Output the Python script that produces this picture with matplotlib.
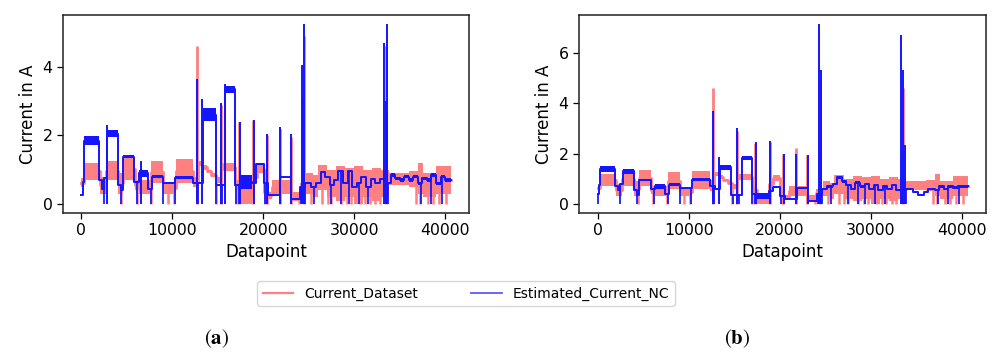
#Grafico de corriente medida vs corriente estimada en dos paneles (a) y (b)

#Librerias
import matplotlib
matplotlib.use('Agg')
import matplotlib.pyplot as plt
import numpy as np

plt.rcParams['font.family'] = 'DejaVu Sans'
plt.rcParams['mathtext.fontset'] = 'stix'

##Datos (valores aproximados)

#Corriente del dataset: inicio de cada tramo, minimo y maximo de la banda
red_x = [0, 300, 2000, 2700, 4000, 4600, 5900, 6300, 7700, 9000, 10400, 12300,
         12800, 13300, 13800, 14300, 14800, 15300, 16900, 17500, 18800, 19300,
         20050, 20500, 21000, 23000, 24000, 24700, 25500, 26000, 27000, 28000,
         29000, 30000, 31000, 32000, 33000, 33800, 36000, 37000, 37600, 39000, 40600]
red_lo = [0.5, 0.7, 0.3, 0.7, 0.3, 0.7, 0.4, 0.3, 0.6, 0.3, 0.6, 0.5,
          1.1, 1.0, 0.9, 0.8, 0.6, 0.95, 0.4, 0.0, 0.7, 0.9,
          0.2, 0.15, 0.3, 0.1, 0.3, 0.3, 0.2, 0.4, 0.2, 0.1,
          0.2, 0.0, 0.2, 0.1, 0.2, 0.55, 0.5, 0.3, 0.2, 0.3]
red_hi = [0.75, 1.2, 0.8, 1.25, 0.9, 1.35, 0.7, 0.7, 1.25, 0.65, 1.3, 0.8,
          1.25, 1.15, 1.0, 0.9, 0.8, 1.2, 0.7, 0.45, 0.9, 1.15,
          0.5, 0.35, 0.7, 0.35, 0.6, 0.9, 0.85, 1.15, 1.0, 1.1,
          1.05, 1.1, 1.0, 1.05, 1.0, 0.9, 0.95, 1.2, 0.9, 1.1]
red_spike_x = [12700, 15300, 17300, 18900, 20400, 21800, 23000, 24450, 33500]
red_spike_y = [4.6, 2.9, 2.4, 2.45, 2.0, 2.2, 1.95, 4.9, 4.6]
red_dip_x = [4400, 6100, 7600, 9500, 10200, 14800, 17000, 20200, 23900, 25300,
             26500, 27100, 27500, 28600, 29200, 29700, 30600, 31200, 31700, 32300,
             32800, 36800, 37200, 38100, 38700, 39300, 40100]

#Corriente estimada (a)
a_x = [0, 150, 300, 1900, 2300, 2500, 2800, 4000, 4300, 4600, 5800, 6300, 7300,
       7800, 9000, 10300, 12300, 12900, 13400, 14800, 15800, 16900, 17500, 18800,
       19200, 20050, 20500, 21850, 23050, 24050, 24600, 25200, 25800, 26300, 26800,
       27300, 27800, 28200, 28800, 29300, 29800, 30300, 30800, 31300, 31800, 32300,
       32800, 33300, 34000, 34500, 35000, 35500, 36000, 36500, 37000, 37500, 38000,
       38500, 39000, 39500, 40000, 40600]
a_lo = [0.25, 0.65, 1.72, 0.7, 0.45, 0.75, 1.95, 0.55, 0.4, 1.35, 0.65, 0.8, 0.45,
        0.75, 0.6, 0.72, 0.6, 0.6, 2.42, 0.55, 3.25, 0.55, 0.45, 0.6,
        1.15, 0.6, 0.25, 0.8, 0.15, 0.5, 0.6, 0.5, 0.6, 0.9, 0.8,
        0.55, 0.7, 0.95, 0.6, 0.95, 0.5, 0.6, 0.75, 0.5, 0.7, 0.6,
        0.7, 0.6, 0.8, 0.7, 0.65, 0.75, 0.65, 0.75, 0.55, 0.7, 0.65,
        0.8, 0.55, 0.75, 0.65]
a_hi = [0.25, 0.65, 1.97, 0.7, 0.45, 0.75, 2.15, 0.55, 0.4, 1.42, 0.65, 1.0, 0.45,
        0.85, 0.6, 0.82, 0.6, 0.6, 2.8, 0.55, 3.45, 0.55, 0.85, 0.6,
        1.2, 0.6, 0.25, 0.8, 0.15, 0.5, 0.6, 0.5, 0.6, 0.95, 0.8,
        0.55, 0.7, 1.0, 0.6, 1.0, 0.5, 0.6, 0.8, 0.5, 0.75, 0.6,
        0.75, 0.6, 0.9, 0.8, 0.75, 0.85, 0.75, 0.85, 0.65, 0.8, 0.75,
        0.9, 0.65, 0.85, 0.75]
a_spike_x = [2800, 6500, 12700, 13300, 15400, 15800, 17400, 18975, 20450, 21840,
             23050, 24230, 24350, 24520, 33330, 33450, 33560, 33650]
a_spike_y = [2.3, 1.25, 3.65, 3.05, 2.95, 3.5, 2.4, 2.45, 2.05, 2.25,
             2.05, 4.05, 3.1, 5.25, 4.7, 3.0, 5.25, 2.7]
a_dip_x = [2450, 4350, 6150, 7700, 9000, 10300, 12800, 14850, 15500, 16950, 17300,
           20150, 24150, 24400, 24600, 25600, 27500, 28600, 29400, 30500, 31500,
           33400, 33700, 37400, 38500, 39700]

#Corriente estimada (b)
b_x = [0, 150, 300, 1900, 2300, 2500, 2800, 4000, 4300, 4600, 5900, 6300, 7400,
       7800, 9000, 10400, 12300, 12900, 13400, 14700, 15800, 16900, 17500, 18800,
       19200, 20050, 20600, 21850, 23100, 24100, 24600, 25200, 25800, 26300, 26800,
       27300, 27800, 28300, 28800, 29300, 29800, 30300, 30800, 31300, 31800, 32300,
       32800, 33300, 34000, 34600, 35200, 35800, 36300, 37000, 37500, 38000, 38500,
       39000, 39500, 40000, 40600]
b_lo = [0.4, 0.75, 1.25, 0.7, 0.55, 0.8, 1.2, 0.55, 0.35, 0.9, 0.6, 0.6, 0.4,
        0.72, 0.62, 0.92, 0.7, 0.6, 1.35, 0.35, 1.75, 0.4, 0.2, 0.5,
        0.65, 0.3, 0.18, 0.6, 0.1, 0.4, 0.55, 0.65, 0.75, 1.0, 0.85,
        0.7, 0.55, 0.8, 0.65, 0.75, 0.55, 0.7, 0.5, 0.65, 0.55, 0.7,
        0.5, 0.55, 0.55, 0.45, 0.35, 0.45, 0.55, 0.5, 0.65, 0.55, 0.65,
        0.6, 0.65, 0.65]
b_hi = [0.4, 0.75, 1.5, 0.7, 0.55, 0.8, 1.4, 0.55, 0.35, 1.0, 0.6, 0.8, 0.4,
        0.82, 0.62, 1.02, 0.7, 0.6, 1.55, 0.35, 1.9, 0.4, 0.45, 0.5,
        0.72, 0.3, 0.18, 0.65, 0.1, 0.4, 0.65, 0.75, 0.85, 1.1, 0.95,
        0.8, 0.65, 0.9, 0.75, 0.85, 0.65, 0.8, 0.6, 0.75, 0.65, 0.8,
        0.6, 0.65, 0.65, 0.5, 0.4, 0.5, 0.65, 0.6, 0.75, 0.65, 0.75,
        0.7, 0.75, 0.75]
b_spike_x = [12700, 13300, 15300, 17400, 18960, 20490, 21780, 23040, 24250,
             24470, 24550, 33260, 33480, 33700]
b_spike_y = [3.7, 1.85, 3.0, 2.45, 2.48, 1.98, 1.97, 1.95, 7.13,
             5.3, 2.0, 6.7, 5.3, 2.35]
b_dip_x = [0, 2450, 4350, 6150, 7700, 9000, 10300, 12800, 14850, 15500, 16950,
           17300, 20150, 24150, 24400, 24600, 25600, 27500, 28600, 29400, 30500,
           31500, 33400, 33800, 37400, 38500, 39700]

ROJO = '#ff8080'
AZUL = '#1515ff'


def nivel(x_edges, lo, hi, xs):
    #Devuelve el nivel medio del tramo en cada posicion xs
    idx = np.clip(np.searchsorted(x_edges, xs, side='right') - 1, 0, len(lo) - 1)
    return (np.array(lo)[idx] + np.array(hi)[idx]) / 2


def serie(ax, x_edges, lo, hi, spike_x, spike_y, dip_x, color, lw, z):
    lo_e = list(lo) + [lo[-1]]
    hi_e = list(hi) + [hi[-1]]
    mid = (np.array(lo_e) + np.array(hi_e)) / 2
    ax.fill_between(x_edges, lo_e, hi_e, step='post', color=color, lw=0, zorder=z)
    ax.plot(x_edges, mid, drawstyle='steps-post', color=color, lw=lw, zorder=z)
    ax.vlines(spike_x, 0, spike_y, color=color, lw=lw, zorder=z)
    ax.vlines(dip_x, 0, nivel(x_edges, lo, hi, dip_x), color=color, lw=lw * 0.9, zorder=z)


############################################################################
######################### GRAFICADO #######################################

fig = plt.figure(figsize=(9.98, 3.54), dpi=100)
ax_a = fig.add_axes([0.0631, 0.3983, 0.4068, 0.5593])
ax_b = fig.add_axes([0.5802, 0.3983, 0.4078, 0.5593])

paneles = [(ax_a, a_x, a_lo, a_hi, a_spike_x, a_spike_y, a_dip_x),
           (ax_b, b_x, b_lo, b_hi, b_spike_x, b_spike_y, b_dip_x)]

for ax, bx, blo, bhi, bsx, bsy, bdx in paneles:
    serie(ax, red_x, red_lo, red_hi, red_spike_x, red_spike_y, red_dip_x, ROJO, 2.0, 2)
    serie(ax, bx, blo, bhi, bsx, bsy, bdx, AZUL, 1.4, 3)
    ax.margins(x=0.05, y=0.05)
    ax.set_xticks([0, 10000, 20000, 30000, 40000])
    ax.tick_params(labelsize=11.3, length=4, width=0.9)
    ax.set_xlabel('Datapoint', fontsize=12, labelpad=3)
    ax.set_ylabel('Current in A', fontsize=12, labelpad=4)
    for s in ax.spines.values():
        s.set_linewidth(1.1)
        s.set_color('#222222')

ax_a.set_yticks([0, 2, 4])
ax_b.set_yticks([0, 2, 4, 6])

#Leyenda comun
h1, = ax_a.plot([], [], color=ROJO, lw=1.6, label='Current_Dataset')
h2, = ax_a.plot([], [], color='#5a5aff', lw=1.3, label='Estimated_Current_NC')
fig.legend(handles=[h1, h2], loc='center', bbox_to_anchor=(0.467, 0.171), ncol=2,
           fontsize=10, columnspacing=3.8, handlelength=2.2, frameon=True,
           edgecolor='#cccccc')

#Etiquetas de los paneles
fig.text(0.2175, 0.042, r'$(\mathbf{a})$', fontsize=15, ha='center', va='center')
fig.text(0.7385, 0.042, r'$(\mathbf{b})$', fontsize=15, ha='center', va='center')

fig.savefig('out.png', dpi=100)
